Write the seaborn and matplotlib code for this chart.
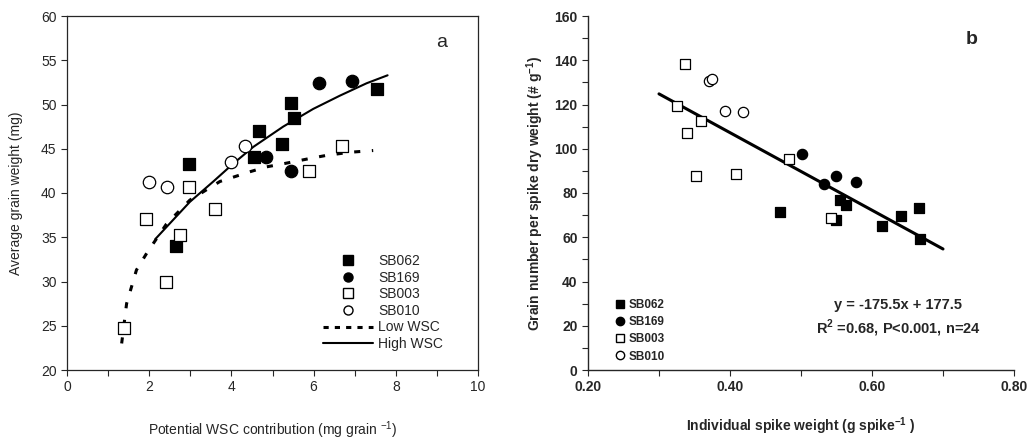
import matplotlib
matplotlib.use('Agg')
import matplotlib.pyplot as plt
from matplotlib.lines import Line2D
from matplotlib.ticker import MultipleLocator, FormatStrFormatter
import seaborn as sns
import pandas as pd

sns.set_style("ticks")
plt.rcParams['font.family'] = ['Liberation Sans', 'DejaVu Sans']
plt.rcParams['mathtext.fontset'] = 'custom'
plt.rcParams['mathtext.rm'] = 'Liberation Sans'
plt.rcParams['mathtext.bf'] = 'Liberation Sans:bold'

# ---------------------------------------------------------------------------
# Panel a: grain weight vs potential WSC contribution
# ---------------------------------------------------------------------------
a_sb062_x = [2.97, 2.64, 4.54, 4.68, 5.23, 5.45, 5.53, 7.54]
a_sb062_y = [43.3, 34.0, 44.1, 47.0, 45.5, 50.2, 48.5, 51.7]
a_sb169_x = [4.85, 5.45, 6.14, 6.94]
a_sb169_y = [44.1, 42.5, 52.4, 52.7]
a_sb003_x = [1.39, 1.91, 2.42, 2.76, 2.97, 3.59, 5.88, 6.70]
a_sb003_y = [24.8, 37.1, 30.0, 35.2, 40.7, 38.2, 42.5, 45.3]
a_sb010_x = [2.00, 2.44, 4.00, 4.32]
a_sb010_y = [41.2, 40.7, 43.5, 45.3]

low_wsc_x = [1.33, 1.45, 1.69, 1.94, 2.42, 2.99, 3.72, 4.45, 4.85, 5.26, 5.91, 6.31, 6.88, 7.45]
low_wsc_y = [23.0, 27.5, 31.3, 33.2, 36.5, 39.2, 41.3, 42.4, 42.95, 43.3, 43.9, 44.25, 44.6, 44.8]
high_wsc_x = [2.15, 2.99, 3.56, 4.04, 4.53, 5.26, 5.99, 6.64, 7.29, 7.80]
high_wsc_y = [34.8, 39.0, 41.3, 43.3, 45.2, 47.5, 49.5, 51.0, 52.4, 53.3]

# ---------------------------------------------------------------------------
# Panel b: grain number per spike dry weight vs spike weight
# ---------------------------------------------------------------------------
b_sb062_x = [0.470, 0.549, 0.555, 0.563, 0.614, 0.641, 0.666, 0.668]
b_sb062_y = [71.3, 68.0, 76.8, 74.7, 65.3, 69.7, 73.1, 59.0]
b_sb169_x = [0.502, 0.532, 0.549, 0.577]
b_sb169_y = [97.5, 84.0, 87.7, 85.0]
b_sb003_x = [0.337, 0.325, 0.359, 0.339, 0.352, 0.408, 0.483, 0.542]
b_sb003_y = [138.5, 119.2, 112.7, 107.2, 87.7, 88.8, 95.3, 68.6]
b_sb010_x = [0.370, 0.375, 0.393, 0.419]
b_sb010_y = [130.6, 131.5, 116.9, 116.6]

fit_x = [0.30, 0.70]
fit_y = [124.8, 54.7]

W, H = 1031, 441
fig = plt.figure(figsize=(W / 100, H / 100), dpi=100)
ax1 = fig.add_axes([67 / W, 71 / H, 411 / W, 354 / H])
ax2 = fig.add_axes([588 / W, 71 / H, 426 / W, 354 / H])


def draw_group(ax, x, y, marker, filled, size):
    df = pd.DataFrame({'x': x, 'y': y})
    sns.scatterplot(data=df, x='x', y='y', ax=ax, marker=marker, s=size,
                    color='black' if filled else 'white', edgecolor='black',
                    linewidth=0.9, zorder=3, legend=False)


# ---- panel a ----
draw_group(ax1, a_sb062_x, a_sb062_y, 's', True, 85)
draw_group(ax1, a_sb169_x, a_sb169_y, 'o', True, 80)
draw_group(ax1, a_sb003_x, a_sb003_y, 's', False, 85)
draw_group(ax1, a_sb010_x, a_sb010_y, 'o', False, 80)
sns.lineplot(x=low_wsc_x, y=low_wsc_y, ax=ax1, color='black', lw=2.2,
             linestyle=(0, (2.0, 3.8)), estimator=None, sort=False)
sns.lineplot(x=high_wsc_x, y=high_wsc_y, ax=ax1, color='black', lw=1.5,
             estimator=None, sort=False)

ax1.set_xlim(0, 10)
ax1.set_ylim(20, 60)
ax1.xaxis.set_major_locator(MultipleLocator(2))
ax1.xaxis.set_minor_locator(MultipleLocator(1))
ax1.yaxis.set_major_locator(MultipleLocator(5))
ax1.tick_params(which='both', direction='out', length=4, width=0.8, labelsize=10)
ax1.set_xlabel(r'Potential WSC contribution (mg grain $^{-1}$)', fontsize=10, labelpad=18)
ax1.set_ylabel('Average grain weight (mg)', fontsize=10, labelpad=13)
for sp in ax1.spines.values():
    sp.set_linewidth(0.9)
ax1.text(0.912, 0.925, 'a', transform=ax1.transAxes, fontsize=14, ha='center', va='center')

handles_a = [
    Line2D([], [], marker='s', ls='none', mfc='black', mec='black', ms=6.5),
    Line2D([], [], marker='o', ls='none', mfc='black', mec='black', ms=6.5),
    Line2D([], [], marker='s', ls='none', mfc='white', mec='black', ms=6.5),
    Line2D([], [], marker='o', ls='none', mfc='white', mec='black', ms=6.5),
    Line2D([], [], color='black', lw=2.2, ls=(0, (1.7, 2.0))),
    Line2D([], [], color='black', lw=1.5),
]
ax1.legend(handles_a, ['SB062', 'SB169', 'SB003', 'SB010', 'Low WSC', 'High WSC'],
           loc='upper left', bbox_to_anchor=(0.623, 0.328), frameon=False,
           fontsize=10, handlelength=3.6, handletextpad=0.35, labelspacing=0.19,
           borderpad=0, borderaxespad=0)

# ---- panel b ----
draw_group(ax2, b_sb062_x, b_sb062_y, 's', True, 60)
draw_group(ax2, b_sb169_x, b_sb169_y, 'o', True, 55)
draw_group(ax2, b_sb003_x, b_sb003_y, 's', False, 60)
draw_group(ax2, b_sb010_x, b_sb010_y, 'o', False, 55)
sns.lineplot(x=fit_x, y=fit_y, ax=ax2, color='black', lw=2.2, estimator=None)

ax2.set_xlim(0.20, 0.80)
ax2.set_ylim(0, 160)
ax2.xaxis.set_major_locator(MultipleLocator(0.2))
ax2.xaxis.set_minor_locator(MultipleLocator(0.1))
ax2.xaxis.set_major_formatter(FormatStrFormatter('%.2f'))
ax2.yaxis.set_major_locator(MultipleLocator(20))
ax2.yaxis.set_minor_locator(MultipleLocator(10))
ax2.tick_params(which='both', direction='out', length=4, width=0.8, labelsize=10)
for lab in ax2.get_xticklabels() + ax2.get_yticklabels():
    lab.set_fontweight('bold')
ax2.spines['top'].set_visible(False)
ax2.spines['right'].set_visible(False)
for sp in ax2.spines.values():
    sp.set_linewidth(1.0)
ax2.set_xlabel(r'Individual spike weight (g spike$^{\mathbf{-1}}$ )', fontsize=10,
               fontweight='bold', labelpad=15)
ax2.set_ylabel(r'Grain number per spike dry weight (# g$^{\mathbf{-1}}$)', fontsize=10,
               fontweight='bold', labelpad=6)
ax2.text(0.90, 0.935, 'b', transform=ax2.transAxes, fontsize=14, fontweight='bold',
         ha='center', va='center')
ax2.text(0.728, 0.184, 'y = -175.5x + 177.5', transform=ax2.transAxes, fontsize=10.5,
         fontweight='bold', ha='center', va='center')
ax2.text(0.728, 0.119, r'R$^{\mathbf{2}}$ =0.68, P<0.001, n=24', transform=ax2.transAxes,
         fontsize=10.5, fontweight='bold', ha='center', va='center')

handles_b = [
    Line2D([], [], marker='s', ls='none', mfc='black', mec='black', ms=6),
    Line2D([], [], marker='o', ls='none', mfc='black', mec='black', ms=6),
    Line2D([], [], marker='s', ls='none', mfc='white', mec='black', ms=6),
    Line2D([], [], marker='o', ls='none', mfc='white', mec='black', ms=6),
]
leg_b = ax2.legend(handles_b, ['SB062', 'SB169', 'SB003', 'SB010'],
                   loc='upper left', bbox_to_anchor=(0.065, 0.2015), frameon=False,
                   fontsize=8.5, handlelength=0.8, handletextpad=0.3, labelspacing=0.45,
                   borderpad=0, borderaxespad=0)
for t in leg_b.get_texts():
    t.set_fontweight('bold')

fig.savefig('out.png', dpi=100)
